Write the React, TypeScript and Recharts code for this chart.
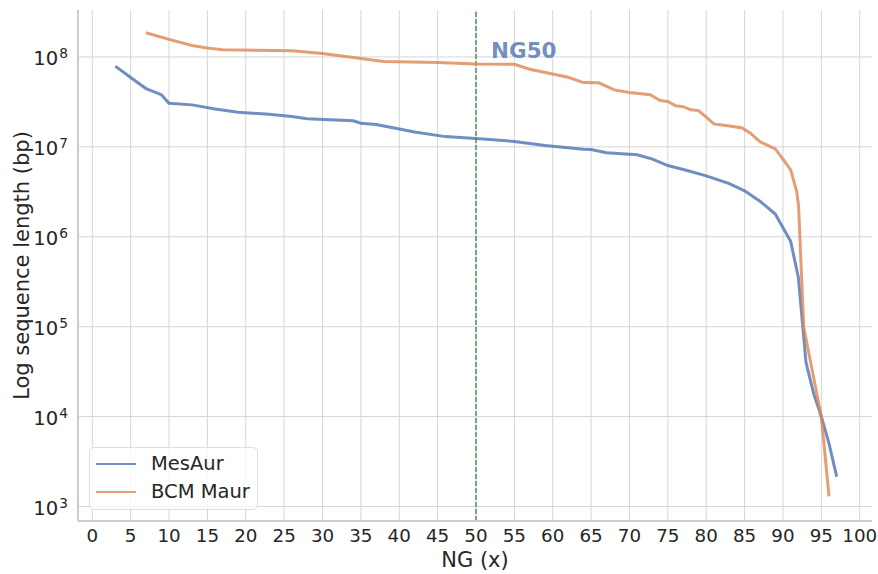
import React from 'react';
import {
  LineChart,
  Line,
  XAxis,
  YAxis,
  CartesianGrid,
  ReferenceLine,
  Legend,
} from 'recharts';

const FONT = '"DejaVu Sans", sans-serif';
const TEXT = '#262626';
const BLUE = '#4c72b0';
const ORANGE = '#dd8452';

// MesAur: NG (x) and sequence length (bp)
const mesAurNG = [3, 5, 7, 9, 10, 13, 16, 19, 23, 26, 28, 31, 34, 35, 37, 40, 42, 46, 50, 55, 59, 64, 65, 67, 71, 73, 75, 77.5, 80, 83, 85, 87, 89, 90, 91, 92, 93, 94, 95, 96, 97];
const mesAurLen = [7.9e7, 5.9e7, 4.45e7, 3.8e7, 3.05e7, 2.93e7, 2.63e7, 2.43e7, 2.3e7, 2.17e7, 2.05e7, 2.0e7, 1.95e7, 1.83e7, 1.77e7, 1.58e7, 1.46e7, 1.3e7, 1.24e7, 1.15e7, 1.035e7, 9.4e6, 9.35e6, 8.6e6, 8.15e6, 7.3e6, 6.2e6, 5.46e6, 4.76e6, 3.9e6, 3.24e6, 2.49e6, 1.79e6, 1.26e6, 8.9e5, 3.55e5, 4.0e4, 1.8e4, 1.0e4, 5.0e3, 2.15e3];

// BCM Maur: NG (x) and sequence length (bp)
const bcmNG = [7, 10, 13, 15, 17, 26, 30, 35, 38, 45, 50, 55, 57, 62, 64, 66, 68, 70, 72.7, 74, 75, 76, 77, 78, 79, 80, 81, 83, 84.7, 85.75, 87, 89, 90, 91, 91.8, 92.03, 92.7, 93.8, 95, 96];
const bcmLen = [1.86e8, 1.57e8, 1.34e8, 1.26e8, 1.2e8, 1.17e8, 1.09e8, 9.6e7, 8.9e7, 8.65e7, 8.35e7, 8.3e7, 7.3e7, 5.94e7, 5.19e7, 5.15e7, 4.3e7, 4.02e7, 3.8e7, 3.27e7, 3.2e7, 2.86e7, 2.8e7, 2.58e7, 2.53e7, 2.14e7, 1.8e7, 1.71e7, 1.62e7, 1.42e7, 1.14e7, 9.5e6, 7.3e6, 5.55e6, 3.16e6, 2.2e6, 1.0e5, 3.3e4, 1.0e4, 1.3e3];

const xTicks = [0, 5, 10, 15, 20, 25, 30, 35, 40, 45, 50, 55, 60, 65, 70, 75, 80, 85, 90, 95, 100];
const yTicks = [1e3, 1e4, 1e5, 1e6, 1e7, 1e8];
const ng50 = 50;

const mesAurData = mesAurNG.map((x, i) => ({ x, y: mesAurLen[i] }));
const bcmData = bcmNG.map((x, i) => ({ x, y: bcmLen[i] }));

const YTick = (props: any) => {
  const { x, y, payload } = props;
  const exp = Math.round(Math.log10(payload.value));
  return (
    <text x={x - 2} y={y + 8} textAnchor="end" fill={TEXT} fontFamily={FONT} fontSize={19.6}>
      <tspan>10</tspan>
      <tspan dx={1} dy={-6.7} fontSize={13.7}>{exp}</tspan>
    </text>
  );
};

const YLabel = () => (
  <text
    transform="translate(29,265.5) rotate(-90)"
    textAnchor="middle"
    fill={TEXT}
    fontFamily={FONT}
    fontSize={21}
  >
    Log sequence length (bp)
  </text>
);

const NGLabel = (props: any) => {
  const vb = props.viewBox || { x: 475, y: 10 };
  return (
    <text x={vb.x + 15} y={vb.y + 48} fill={BLUE} fillOpacity={0.8} fontFamily={FONT} fontWeight="bold" fontSize={21.5}>
      NG50
    </text>
  );
};

const legendItems = [
  { name: 'MesAur', color: BLUE },
  { name: 'BCM Maur', color: ORANGE },
];

const renderLegend = () => (
  <div
    style={{
      position: 'relative',
      width: 169,
      height: 63,
      boxSizing: 'border-box',
      border: '1px solid #dedede',
      borderRadius: 5,
      background: 'rgba(255,255,255,0.8)',
      fontFamily: FONT,
      fontSize: 19.5,
      color: TEXT,
    }}
  >
    {legendItems.map((it, i) => {
      const cy = 15.7 + i * 28.3;
      return (
        <React.Fragment key={it.name}>
          <div
            style={{
              position: 'absolute',
              left: 6,
              top: cy - 1,
              width: 40,
              height: 2,
              background: it.color,
              opacity: 0.8,
            }}
          />
          <div
            style={{
              position: 'absolute',
              left: 61,
              top: cy - 12,
              height: 24,
              lineHeight: '24px',
              whiteSpace: 'nowrap',
            }}
          >
            {it.name}
          </div>
        </React.Fragment>
      );
    })}
  </div>
);

export default function App() {
  return (
    <div style={{ position: 'absolute', left: 0, top: 0, background: '#fff' }}>
      <LineChart width={878} height={574} margin={{ top: 10, right: 6, bottom: 0, left: 0 }}>
        <CartesianGrid stroke="#d6d6d6" strokeWidth={1} syncWithTicks />
        <XAxis
          dataKey="x"
          type="number"
          domain={[-1.86, 101.6]}
          allowDataOverflow
          ticks={xTicks}
          interval={0}
          height={53}
          tickLine={false}
          axisLine={{ stroke: '#cccccc', strokeWidth: 2 }}
          tick={{ fill: TEXT, fontSize: 18.3, fontFamily: FONT }}
          label={{ value: 'NG (x)', position: 'insideBottom', offset: 7.5, fill: TEXT, fontSize: 21, fontFamily: FONT }}
        />
        <YAxis
          dataKey="y"
          type="number"
          scale="log"
          domain={[Math.pow(10, 2.839), Math.pow(10, 8.522)]}
          allowDataOverflow
          ticks={yTicks}
          interval={0}
          width={78}
          tickLine={false}
          axisLine={{ stroke: '#cccccc', strokeWidth: 2 }}
          tick={<YTick />}
          label={<YLabel />}
        />
        <ReferenceLine
          x={ng50}
          stroke="#2e7d32"
          strokeWidth={1.2}
          strokeDasharray="5 2"
          label={<NGLabel />}
        />
        <Line
          data={mesAurData}
          dataKey="y"
          name="MesAur"
          type="linear"
          stroke={BLUE}
          strokeOpacity={0.8}
          strokeWidth={3}
          dot={false}
          isAnimationActive={false}
        />
        <Line
          data={bcmData}
          dataKey="y"
          name="BCM Maur"
          type="linear"
          stroke={ORANGE}
          strokeOpacity={0.8}
          strokeWidth={3}
          dot={false}
          isAnimationActive={false}
        />
        <Legend
          layout="horizontal"
          verticalAlign="middle"
          align="center"
          content={renderLegend}
          wrapperStyle={{ left: 89, top: 447, width: 169, height: 63 }}
        />
      </LineChart>
    </div>
  );
}
